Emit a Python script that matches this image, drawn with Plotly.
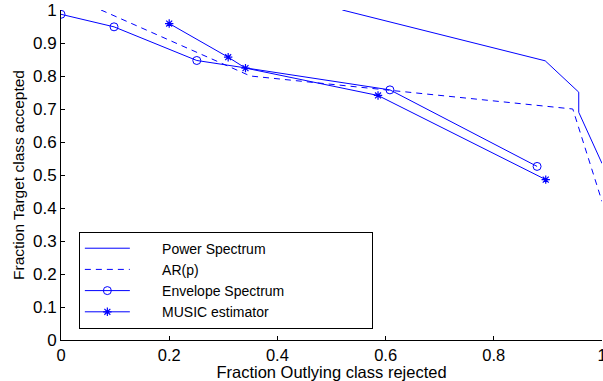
import plotly.graph_objects as go

# Data
power_x = [0.52, 0.895, 0.957, 0.957, 1.0]
power_y = [1.0, 0.846, 0.751, 0.69, 0.535]

ar_x = [0.074, 0.35, 0.946, 1.0]
ar_y = [1.0, 0.80, 0.700, 0.42]

env_x = [0.0, 0.098, 0.251, 0.608, 0.880]
env_y = [0.987, 0.949, 0.847, 0.758, 0.526]

music_x = [0.200, 0.309, 0.341, 0.586, 0.896]
music_y = [0.959, 0.857, 0.824, 0.741, 0.486]

names = ["Power Spectrum", "AR(p)", "Envelope Spectrum", "MUSIC estimator"]
x_ticks = [0, 0.2, 0.4, 0.6, 0.8, 1]
x_ticklabels = ["0", "0.2", "0.4", "0.6", "0.8", "1"]
y_ticks = [0, 0.1, 0.2, 0.3, 0.4, 0.5, 0.6, 0.7, 0.8, 0.9, 1]
y_ticklabels = ["0", "0.1", "0.2", "0.3", "0.4", "0.5", "0.6", "0.7", "0.8", "0.9", "1"]

BLUE = "#0000ff"
FONT = "Liberation Sans, Arial, Helvetica, sans-serif"
lead = "\u00a0" * 7
trail = "\u00a0" * 21

fig = go.Figure()
fig.add_trace(go.Scatter(x=power_x, y=power_y, mode="lines", name=lead + names[0],
                         line=dict(color=BLUE, width=1)))
fig.add_trace(go.Scatter(x=ar_x, y=ar_y, mode="lines", name=lead + names[1],
                         line=dict(color=BLUE, width=1, dash="6px,5px")))
fig.add_trace(go.Scatter(x=env_x, y=env_y, mode="lines+markers", name=lead + names[2] + trail,
                         line=dict(color=BLUE, width=1),
                         marker=dict(symbol="circle-open", size=8, color=BLUE,
                                     line=dict(width=1, color=BLUE))))
fig.add_trace(go.Scatter(x=music_x, y=music_y, mode="lines+markers", name=lead + names[3],
                         line=dict(color=BLUE, width=1),
                         marker=dict(symbol="asterisk-open", size=7, color=BLUE,
                                     line=dict(width=1.2, color=BLUE))))

fig.update_layout(
    width=603, height=381,
    margin=dict(l=61, r=1, t=10, b=40.5, autoexpand=False),
    paper_bgcolor="white", plot_bgcolor="white",
    font=dict(family=FONT, size=16, color="black"),
    showlegend=True,
    legend=dict(x=0.033, y=0.1815, xanchor="left", yanchor="middle",
                bordercolor="black", borderwidth=1, bgcolor="white",
                font=dict(family=FONT, size=14, color="black"),
                itemwidth=45, tracegroupgap=0),
)
fig.update_xaxes(range=[0, 1], tickvals=x_ticks, ticktext=x_ticklabels,
                 ticks="inside", ticklen=4, tickcolor="black",
                 showline=True, linecolor="black", linewidth=1,
                 showgrid=False, zeroline=False, mirror=False,
                 tickfont=dict(size=16.5), automargin=False, ticklabeloverflow="allow",
                 title=dict(text="Fraction Outlying class rejected", font=dict(size=16.5), standoff=5))
fig.update_yaxes(range=[0, 1], tickvals=y_ticks, ticktext=y_ticklabels,
                 ticks="inside", ticklen=4, tickcolor="black",
                 showline=True, linecolor="black", linewidth=1,
                 showgrid=False, zeroline=False, mirror=False,
                 tickfont=dict(size=17), automargin=False, ticklabeloverflow="allow",
                 title=dict(text="Fraction Target class accepted", font=dict(size=15.5), standoff=4))

# remove the browser's default 8px body margin so the figure fills the window
fig.write_html("out.html",
               config={"displayModeBar": False},
               post_script="document.body.style.margin='0';document.body.style.overflow='hidden';")
